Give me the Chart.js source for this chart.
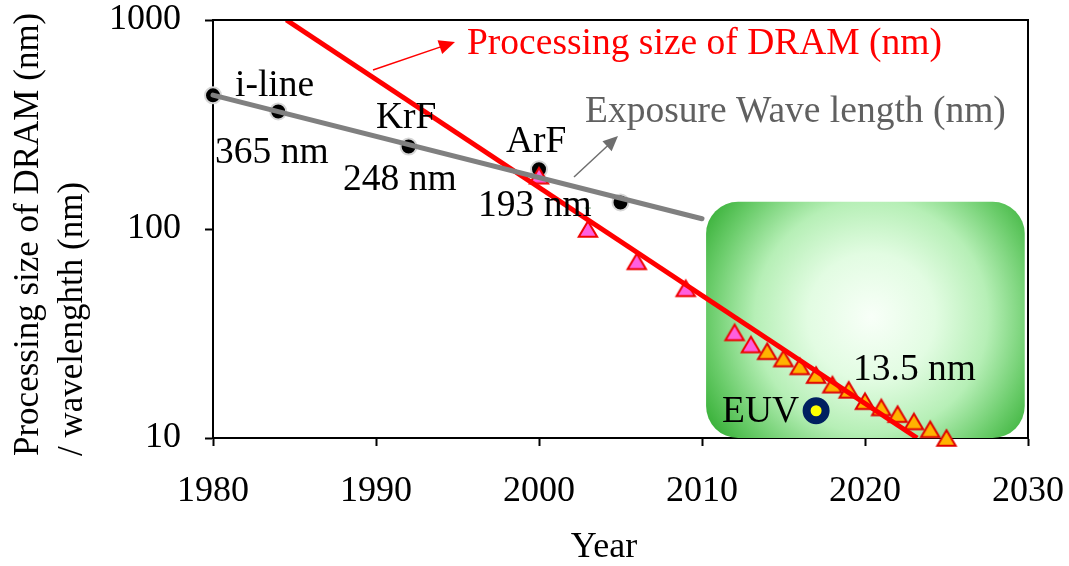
<!DOCTYPE html>
<html>
<head>
<meta charset="utf-8">
<script src="https://cdn.jsdelivr.net/npm/chart.js@4/dist/chart.umd.min.js"></script>
<style>
  html, body { margin: 0; padding: 0; background: #fff; }
  canvas { display: block; }
</style>
</head>
<body>
<canvas id="chart" width="1069" height="566"></canvas>
<script>
// Exposure wavelength of the lithography light sources (nm)
const wavelengthYears = [1980, 1984, 1992, 2000, 2005];
const wavelengthValues = [436, 365, 248, 193, 134];

// Exponential trend through the wavelength points
const wavelengthTrendYears = [1980, 2010];
const wavelengthTrendValues = [437, 112];

// DRAM processing size (half pitch, nm) up to 2013
const dramPastYears = [2000, 2003, 2006, 2009, 2012, 2013];
const dramPastValues = [180, 100, 70, 52, 32, 28];

// DRAM processing size (half pitch, nm) from the roadmap
const dramRoadmapYears = [2014, 2015, 2016, 2017, 2018, 2019, 2020, 2021, 2022, 2023, 2024, 2025];
const dramRoadmapValues = [26, 24, 22, 20, 18, 17, 15, 14, 13, 12, 11, 10];

// Exponential trend of the DRAM processing size
const dramTrendYears = [1984.5, 2023.2];
const dramTrendValues = [1000, 10];

// EUV light source
const euvYears = [2017];
const euvValues = [13.5];

// Small stray marker
const strayYears = [2003];
const strayValues = [126];

// Axis ticks
const yearTicks = [1980, 1990, 2000, 2010, 2020, 2030];
const sizeTicks = [10, 100, 1000];

const FONT = '"Liberation Serif", "Times New Roman", serif';

function toPoints(xs, ys) {
  return xs.map((x, i) => ({ x: x, y: ys[i] }));
}

// Triangle marker centred on its bounding box
function triangleMarker(fill, stroke) {
  const c = document.createElement('canvas');
  c.width = 24; c.height = 22;
  const g = c.getContext('2d');
  g.beginPath();
  g.moveTo(12, 3.2);
  g.lineTo(2.8, 18.8);
  g.lineTo(21.2, 18.8);
  g.closePath();
  g.fillStyle = fill;
  g.fill();
  g.lineWidth = 2;
  g.lineJoin = 'miter';
  g.strokeStyle = stroke;
  g.stroke();
  return c;
}

const pinkTriangle = triangleMarker('#ff5fdf', '#f00000');
const orangeTriangle = triangleMarker('#ffb300', '#e00000');

function drawArrow(ctx, x0, y0, x1, y1, color, head) {
  const a = Math.atan2(y1 - y0, x1 - x0);
  ctx.save();
  ctx.strokeStyle = color;
  ctx.fillStyle = color;
  ctx.lineWidth = 1.5;
  ctx.beginPath();
  ctx.moveTo(x0, y0);
  ctx.lineTo(x1 - Math.cos(a) * head * 0.8, y1 - Math.sin(a) * head * 0.8);
  ctx.stroke();
  ctx.beginPath();
  ctx.moveTo(x1, y1);
  ctx.lineTo(x1 - Math.cos(a) * head + Math.sin(a) * head * 0.45,
             y1 - Math.sin(a) * head - Math.cos(a) * head * 0.45);
  ctx.lineTo(x1 - Math.cos(a) * head - Math.sin(a) * head * 0.45,
             y1 - Math.sin(a) * head + Math.cos(a) * head * 0.45);
  ctx.closePath();
  ctx.fill();
  ctx.restore();
}

function roundRect(ctx, x, y, w, h, r) {
  ctx.beginPath();
  ctx.moveTo(x + r, y);
  ctx.lineTo(x + w - r, y);
  ctx.arcTo(x + w, y, x + w, y + r, r);
  ctx.lineTo(x + w, y + h - r);
  ctx.arcTo(x + w, y + h, x + w - r, y + h, r);
  ctx.lineTo(x + r, y + h);
  ctx.arcTo(x, y + h, x, y + h - r, r);
  ctx.lineTo(x, y + r);
  ctx.arcTo(x, y, x + r, y, r);
  ctx.closePath();
}

// Region highlighting the EUV era (in axis units)
const euvRegion = { fromYear: 2010.25, toYear: 2029.8, top: 135, bottom: 10 };

const decorations = {
  id: 'decorations',
  beforeDatasetsDraw(chart) {
    const ctx = chart.ctx;
    const xs = chart.scales.x, ys = chart.scales.y;
    const left = xs.getPixelForValue(euvRegion.fromYear);
    const right = xs.getPixelForValue(euvRegion.toYear);
    const top = ys.getPixelForValue(euvRegion.top);
    const bottom = ys.getPixelForValue(euvRegion.bottom);
    const cx = (left + right) / 2 + 6, cy = (top + bottom) / 2 - 3;
    const grad = ctx.createRadialGradient(cx, cy, 0, cx, cy, 212);
    grad.addColorStop(0, '#f8fff8');
    grad.addColorStop(0.3, '#e2fce2');
    grad.addColorStop(0.55, '#b6efb6');
    grad.addColorStop(0.76, '#6ccd6c');
    grad.addColorStop(1, '#1ea21e');
    ctx.save();
    roundRect(ctx, left, top, right - left, bottom - top, 32);
    ctx.fillStyle = grad;
    ctx.fill();
    ctx.restore();
  },
  afterDatasetsDraw(chart) {
    const ctx = chart.ctx;
    const a = chart.chartArea;
    ctx.save();
    // top and right frame
    ctx.strokeStyle = '#000';
    ctx.lineWidth = 2;
    ctx.beginPath();
    ctx.moveTo(a.left, a.top);
    ctx.lineTo(a.right, a.top);
    ctx.lineTo(a.right, a.bottom);
    ctx.stroke();

    // pointer arrows
    drawArrow(ctx, 373, 70, 455, 42, '#ff0000', 16);
    drawArrow(ctx, 574, 177, 618, 136, '#6e6e6e', 15);

    // annotation texts
    ctx.textAlign = 'left';
    ctx.textBaseline = 'alphabetic';
    ctx.font = '37.5px ' + FONT;
    ctx.fillStyle = '#000';
    ctx.fillText('i-line', 235, 96);
    ctx.fillText('365 nm', 215, 163);
    ctx.fillText('KrF', 376, 128);
    ctx.fillText('248 nm', 343, 190);
    ctx.fillText('ArF', 506, 152);
    ctx.fillText('193 nm', 478, 216);
    ctx.fillText('13.5 nm', 853, 380);
    ctx.fillText('EUV', 722, 422);
    ctx.fillStyle = '#ff0000';
    ctx.fillText('Processing size of DRAM (nm)', 467, 54);
    ctx.fillStyle = '#606060';
    ctx.fillText('Exposure Wave length (nm)', 585, 122);
    ctx.restore();
  },
  afterDraw(chart) {
    const ctx = chart.ctx;
    ctx.save();
    ctx.fillStyle = '#000';
    ctx.font = '36px ' + FONT;
    // x axis title
    ctx.textAlign = 'center';
    ctx.textBaseline = 'alphabetic';
    ctx.fillText('Year', 604, 557);
    // y axis title, two lines reading upwards
    ctx.font = '35px ' + FONT;
    ctx.translate(0, 456);
    ctx.rotate(-Math.PI / 2);
    ctx.textAlign = 'left';
    ctx.fillText('Processing size of DRAM (nm)', 0, 38);
    ctx.fillText('/ wavelenghth (nm)', 0, 82);
    ctx.restore();
  }
};

new Chart(document.getElementById('chart'), {
  type: 'scatter',
  data: {
    datasets: [
      {
        label: 'Exposure wavelength trend',
        data: toPoints(wavelengthTrendYears, wavelengthTrendValues),
        showLine: true,
        borderColor: '#808080',
        borderWidth: 5,
        borderCapStyle: 'round',
        pointRadius: 0,
        clip: false
      },
      {
        label: 'DRAM trend',
        data: toPoints(dramTrendYears, dramTrendValues),
        showLine: true,
        borderColor: '#ff0000',
        borderWidth: 5,
        pointRadius: 0
      },
      {
        label: 'DRAM roadmap',
        data: toPoints(dramRoadmapYears, dramRoadmapValues),
        pointStyle: orangeTriangle,
        pointRadius: 10,
        clip: false
      },
      {
        label: 'DRAM',
        data: toPoints(dramPastYears, dramPastValues),
        pointStyle: pinkTriangle,
        pointRadius: 10,
        clip: false
      },
      {
        label: 'Exposure wavelength',
        data: toPoints(wavelengthYears, wavelengthValues),
        pointStyle: 'circle',
        pointRadius: 8,
        backgroundColor: '#000',
        borderColor: '#d6d6d6',
        borderWidth: 2,
        clip: false
      },
      {
        label: 'EUV',
        data: toPoints(euvYears, euvValues),
        pointStyle: 'circle',
        pointRadius: 9.5,
        backgroundColor: '#ffff00',
        borderColor: '#002060',
        borderWidth: 8,
        clip: false
      },
      {
        label: 'stray',
        data: toPoints(strayYears, strayValues),
        pointStyle: 'cross',
        pointRadius: 3,
        borderColor: '#6a9f6a',
        borderWidth: 1
      }
    ]
  },
  options: {
    responsive: false,
    animation: false,
    devicePixelRatio: 1,
    layout: { padding: { top: 20, right: 41, bottom: 0, left: 0 } },
    plugins: {
      legend: { display: false },
      tooltip: { enabled: false }
    },
    scales: {
      x: {
        type: 'linear',
        min: 1980,
        max: 2030,
        afterBuildTicks: s => { s.ticks = yearTicks.map(v => ({ value: v })); },
        afterFit: s => {
          s.height = 128;
          s.paddingLeft = 0;
          s.paddingRight = 0;
        },
        ticks: {
          font: { family: FONT, size: 36 },
          color: '#000',
          padding: 24,
          maxRotation: 0,
          callback: v => String(v)
        },
        grid: { drawOnChartArea: false, drawTicks: true, tickLength: 8, tickColor: '#000', tickWidth: 2 },
        border: { display: true, color: '#000', width: 2 }
      },
      y: {
        type: 'logarithmic',
        min: 10,
        max: 1000,
        afterBuildTicks: s => { s.ticks = sizeTicks.map(v => ({ value: v })); },
        afterFit: s => {
          s.width = 213;
          s.paddingTop = 0;
          s.paddingBottom = 0;
        },
        ticks: {
          font: { family: FONT, size: 36 },
          color: '#000',
          padding: 24,
          callback: v => String(v)
        },
        grid: { drawOnChartArea: false, drawTicks: true, tickLength: 8, tickColor: '#000', tickWidth: 2 },
        border: { display: true, color: '#000', width: 2 }
      }
    }
  },
  plugins: [decorations]
});
</script>
</body>
</html>
